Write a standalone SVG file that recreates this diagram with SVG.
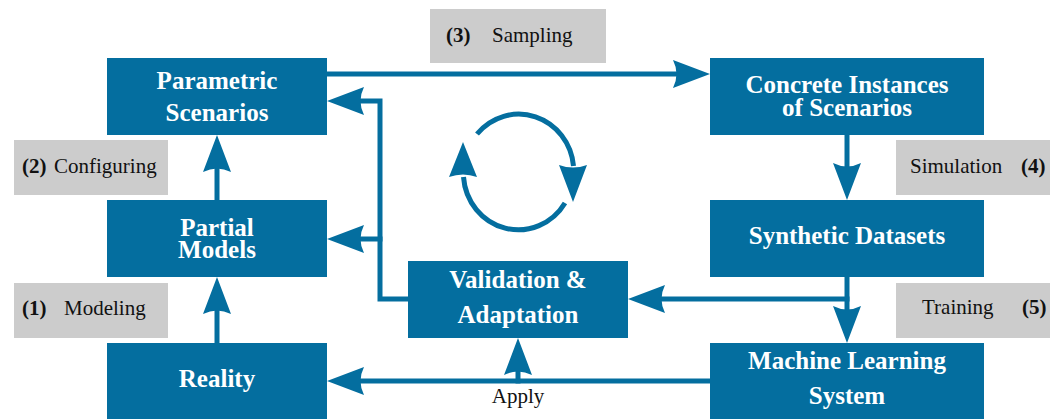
<svg xmlns="http://www.w3.org/2000/svg" width="1059" height="419" viewBox="0 0 1059 419">
<style>
.node{fill:#046e9f}
.lbl{fill:#cccccc}
.nt{font-family:"Liberation Serif","Times New Roman",serif;font-weight:bold;font-size:25px;fill:#ffffff;text-anchor:middle}
.lt{font-family:"Liberation Serif","Times New Roman",serif;font-size:21px;fill:#111111}
.b{font-weight:bold}
.conn{fill:none;stroke:#046e9f;stroke-width:5}
</style>
<defs>
<marker id="ah" markerUnits="userSpaceOnUse" markerWidth="40" markerHeight="30" viewBox="0 -15 40 30" refX="4" refY="0" orient="auto" overflow="visible">
<path d="M37,0 L0,-14 Q7,0 0,14 Z" fill="#046e9f"/>
</marker>
</defs>
<rect width="1059" height="419" fill="#ffffff"/>
<g id="labels">
<g id="lbl-sampling"><rect class="lbl" x="430" y="9" width="176" height="54"/><text class="lt" x="446" y="42"><tspan class="b">(3)</tspan><tspan x="492">Sampling</tspan></text></g>
<g id="lbl-configuring"><rect class="lbl" x="14" y="140" width="154" height="55"/><text class="lt" x="22" y="173"><tspan class="b">(2)</tspan><tspan x="54">Configuring</tspan></text></g>
<g id="lbl-modeling"><rect class="lbl" x="14" y="283" width="154" height="55"/><text class="lt" x="22" y="315"><tspan class="b">(1)</tspan><tspan x="64">Modeling</tspan></text></g>
<g id="lbl-simulation"><rect class="lbl" x="896" y="140" width="154" height="55"/><text class="lt" x="910" y="173">Simulation<tspan class="b" x="1021">(4)</tspan></text></g>
<g id="lbl-training"><rect class="lbl" x="896" y="283" width="154" height="55"/><text class="lt" x="922" y="314">Training<tspan class="b" x="1022">(5)</tspan></text></g>
</g>
<g id="connectors">
<line class="conn" x1="217" y1="343" x2="217" y2="310" marker-end="url(#ah)"/>
<line class="conn" x1="217" y1="200" x2="217" y2="168" marker-end="url(#ah)"/>
<line class="conn" x1="327" y1="74" x2="677" y2="74" marker-end="url(#ah)"/>
<line class="conn" x1="847" y1="135" x2="847" y2="167" marker-end="url(#ah)"/>
<line class="conn" x1="847" y1="277" x2="847" y2="310" marker-end="url(#ah)"/>
<line class="conn" x1="849.5" y1="299" x2="661" y2="299" marker-end="url(#ah)"/>
<polyline class="conn" points="408,299 380,299 380,101 360,101" marker-end="url(#ah)"/>
<line class="conn" x1="382.5" y1="239" x2="360" y2="239" marker-end="url(#ah)"/>
<line class="conn" x1="710" y1="381" x2="360" y2="381" marker-end="url(#ah)"/>
<line class="conn" x1="518" y1="383.5" x2="518" y2="371" marker-end="url(#ah)"/>
<path class="conn" d="M477,134 A55,57 0 0 1 573.5,166"/>
<path d="M573,202 L559,165 Q573,170 587,165 Z" fill="#046e9f"/>
<path class="conn" d="M565,203 A55,57 0 0 1 463.5,177"/>
<path d="M463,142 L449,177 Q463,172 477,177 Z" fill="#046e9f"/>
<text class="lt" x="518" y="403" text-anchor="middle">Apply</text>
</g>
<g id="node-parametric"><rect class="node" x="107" y="58" width="220" height="77"/><text class="nt" x="217" y="89">Parametric</text><text class="nt" x="217" y="121">Scenarios</text></g>
<g id="node-partial"><rect class="node" x="107" y="200" width="220" height="77"/><text class="nt" x="217" y="236">Partial</text><text class="nt" x="217" y="258">Models</text></g>
<g id="node-reality"><rect class="node" x="107" y="343" width="220" height="77"/><text class="nt" x="217" y="387">Reality</text></g>
<g id="node-concrete"><rect class="node" x="710" y="58" width="274" height="77"/><text class="nt" x="847" y="93">Concrete Instances</text><text class="nt" x="847" y="116">of Scenarios</text></g>
<g id="node-synthetic"><rect class="node" x="710" y="200" width="274" height="77"/><text class="nt" x="847" y="244">Synthetic Datasets</text></g>
<g id="node-ml"><rect class="node" x="710" y="343" width="274" height="77"/><text class="nt" x="847" y="369">Machine Learning</text><text class="nt" x="847" y="404">System</text></g>
<g id="node-validation"><rect class="node" x="408" y="261" width="220" height="77"/><text class="nt" x="518" y="288">Validation &amp;</text><text class="nt" x="518" y="323">Adaptation</text></g>
</svg>
